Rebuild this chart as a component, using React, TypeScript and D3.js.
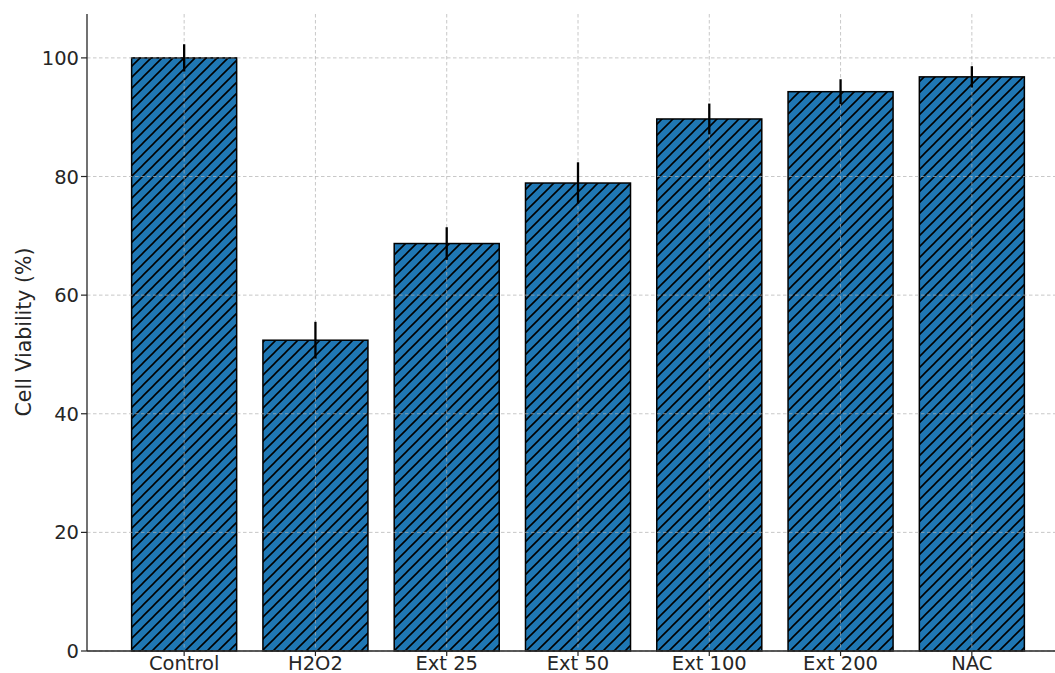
import React from "react";
import * as d3 from "d3";

const categories = ["Control", "H2O2", "Ext 25", "Ext 50", "Ext 100", "Ext 200", "NAC"];
const viability = [100, 52.4, 68.7, 78.9, 89.7, 94.3, 96.8];
const errors = [2.3, 3.1, 2.75, 3.5, 2.6, 2.1, 1.8];
const yTicks = [0, 20, 40, 60, 80, 100];

const W = 1055;
const H = 673;
const left = 87;
const right = 1069;
const top = 14;
const bottom = 651;
const barWidth = 0.8;
const font = "'DejaVu Sans', sans-serif";
const barColor = "#1f77b4";
const axisColor = "#262626";
const gridColor = "rgba(176,176,176,0.7)";

export default function App() {
  const x = d3.scaleLinear().domain([-0.74, categories.length - 1 + 0.74]).range([left, right]);
  const y = d3.scaleLinear().domain([0, 107.4]).range([bottom, top]);
  const bw = x(barWidth) - x(0);
  const hs = 11;

  return (
    <svg
      width={W}
      height={H}
      style={{ position: "absolute", left: 0, top: 0, background: "#fff" }}
      fontFamily={font}
    >
      <defs>
        <pattern id="hatch" patternUnits="userSpaceOnUse" width={hs} height={hs}>
          <rect width={hs} height={hs} fill={barColor} />
          <path
            d={`M${-hs / 2},${hs / 2} L${hs / 2},${-hs / 2} M0,${hs} L${hs},0 M${hs / 2},${hs * 1.5} L${hs * 1.5},${hs / 2}`}
            stroke="#000"
            strokeWidth={1.6}
          />
        </pattern>
      </defs>

      {/* bars */}
      {categories.map((c, i) => (
        <rect
          key={c}
          x={x(i) - bw / 2}
          y={y(viability[i])}
          width={bw}
          height={y(0) - y(viability[i])}
          fill="url(#hatch)"
          stroke="#000"
          strokeWidth={1.5}
        />
      ))}

      {/* grid */}
      {yTicks.map((t) => (
        <line
          key={"gy" + t}
          x1={left}
          x2={right}
          y1={y(t)}
          y2={y(t)}
          stroke={gridColor}
          strokeWidth={1}
          strokeDasharray="3.5,2.5"
        />
      ))}
      {categories.map((c, i) => (
        <line
          key={"gx" + c}
          x1={x(i)}
          x2={x(i)}
          y1={top}
          y2={bottom}
          stroke={gridColor}
          strokeWidth={1}
          strokeDasharray="3.5,2.5"
        />
      ))}

      {/* error bars */}
      {categories.map((c, i) => (
        <line
          key={"e" + c}
          x1={x(i)}
          x2={x(i)}
          y1={y(viability[i] + errors[i])}
          y2={y(viability[i] - errors[i])}
          stroke="#000"
          strokeWidth={2.3}
        />
      ))}

      {/* axes */}
      <line x1={left} x2={left} y1={top} y2={bottom} stroke={axisColor} strokeWidth={1.3} />
      <line x1={left} x2={right} y1={bottom} y2={bottom} stroke={axisColor} strokeWidth={1.3} />

      {yTicks.map((t) => (
        <g key={"yt" + t}>
          <line x1={left - 6} x2={left} y1={y(t)} y2={y(t)} stroke={axisColor} strokeWidth={1.2} />
          <text
            x={left - 8}
            y={y(t)}
            dy="0.36em"
            textAnchor="end"
            fontSize={19.5}
            fill={axisColor}
          >
            {t}
          </text>
        </g>
      ))}

      {categories.map((c, i) => (
        <g key={"xt" + c}>
          <line x1={x(i)} x2={x(i)} y1={bottom} y2={bottom + 5} stroke={axisColor} strokeWidth={1.2} />
          <text x={x(i)} y={670} textAnchor="middle" fontSize={19.5} fill={axisColor}>
            {c}
          </text>
        </g>
      ))}

      <text
        transform={`translate(${31},${332}) rotate(-90)`}
        textAnchor="middle"
        fontSize={20.5}
        fill={axisColor}
      >
        Cell Viability (%)
      </text>
    </svg>
  );
}
